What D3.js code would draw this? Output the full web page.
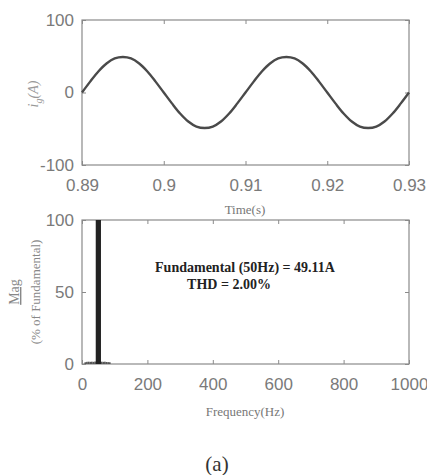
<!DOCTYPE html>
<html>
<head>
<meta charset="utf-8">
<script src="https://cdn.jsdelivr.net/npm/d3@7"></script>
<style>
    body { margin: 0; background: #fff; }
    svg { display: block; }
    .axis path, .axis line { stroke: #8a8a8a; }
    .axis text { fill: #7a7a7a; font-family: "Liberation Sans", Arial, sans-serif; font-size: 17px; }
</style>
</head>
<body>
<svg id="chart" width="427" height="475"></svg>
<script>
var timeValues = [0.890, 0.891, 0.892, 0.893, 0.894, 0.895, 0.896, 0.897, 0.898, 0.899,
    0.900, 0.901, 0.902, 0.903, 0.904, 0.905, 0.906, 0.907, 0.908, 0.909,
    0.910, 0.911, 0.912, 0.913, 0.914, 0.915, 0.916, 0.917, 0.918, 0.919,
    0.920, 0.921, 0.922, 0.923, 0.924, 0.925, 0.926, 0.927, 0.928, 0.929, 0.930];
var currentValues = [0, 15, 29, 40, 47, 49, 47, 40, 29, 15,
    0, -15, -29, -40, -47, -49, -47, -40, -29, -15,
    0, 15, 29, 40, 47, 49, 47, 40, 29, 15,
    0, -15, -29, -40, -47, -49, -47, -40, -29, -15, 0];
var timeTicks = [0.89, 0.9, 0.91, 0.92, 0.93];
var currentTicks = [-100, 0, 100];

// spectrum
var harmonicFreqs = [10, 15, 20, 25, 30, 35, 40, 45, 55, 60, 65, 70, 75, 80, 85];
var harmonicMags = [1.2, 1.5, 1.6, 1.5, 1.6, 1.5, 1.7, 1.8, 1.8, 1.6, 1.5, 1.6, 1.4, 1.3, 1.2];
var fundamentalFreq = 50;
var fundamentalMag = 100;
var freqTicks = [0, 200, 400, 600, 800, 1000];
var magTicks = [0, 50, 100];

var svg = d3.select("#chart");
var left = 82, right = 409;

function plainNumber(d) {
    // keep an ascii hyphen for negatives, like the original
    return String(+d.toFixed(2));
}

function drawBox(x, y) {
    svg.append("rect")
        .attr("x", x.range()[0])
        .attr("y", y.range()[1])
        .attr("width", x.range()[1] - x.range()[0])
        .attr("height", y.range()[0] - y.range()[1])
        .attr("fill", "none")
        .attr("stroke", "#8a8a8a")
        .attr("stroke-width", 1.2);
}

function drawAxes(x, y, xTicks, yTicks) {
    var top = y.range()[1], bottom = y.range()[0];

    svg.append("g")
        .attr("class", "axis")
        .attr("transform", "translate(0," + bottom + ")")
        .call(d3.axisBottom(x).tickValues(xTicks).tickSize(-4).tickPadding(14).tickFormat(plainNumber))
        .call(function (g) { g.select(".domain").remove(); });

    svg.append("g")
        .attr("class", "axis")
        .attr("transform", "translate(0," + top + ")")
        .call(d3.axisTop(x).tickValues(xTicks).tickSize(-4).tickFormat(""))
        .call(function (g) { g.select(".domain").remove(); });

    svg.append("g")
        .attr("class", "axis")
        .attr("transform", "translate(" + left + ",0)")
        .call(d3.axisLeft(y).tickValues(yTicks).tickSize(-4).tickPadding(8).tickFormat(plainNumber))
        .call(function (g) { g.select(".domain").remove(); });

    svg.append("g")
        .attr("class", "axis")
        .attr("transform", "translate(" + right + ",0)")
        .call(d3.axisRight(y).tickValues(yTicks).tickSize(-4).tickFormat(""))
        .call(function (g) { g.select(".domain").remove(); });

    drawBox(x, y);
}

// ---- top: time waveform ----
var xTime = d3.scaleLinear().domain([0.89, 0.93]).range([left, right]);
var yCur = d3.scaleLinear().domain([-100, 100]).range([165, 20]);

drawAxes(xTime, yCur, timeTicks, currentTicks);

var lineFunc = d3.line()
    .x(function (d, i) { return xTime(timeValues[i]); })
    .y(function (d) { return yCur(d); })
    .curve(d3.curveCatmullRom);

svg.append("path")
    .attr("d", lineFunc(currentValues))
    .attr("fill", "none")
    .attr("stroke", "#4a4a4a")
    .attr("stroke-width", 2.4);

svg.append("text")
    .attr("x", 245).attr("y", 214)
    .attr("text-anchor", "middle")
    .attr("font-family", "Liberation Serif, serif")
    .attr("font-size", 13).attr("fill", "#777")
    .text("Time(s)");

var ylab = svg.append("text")
    .attr("transform", "translate(38,94) rotate(-90)")
    .attr("text-anchor", "middle")
    .attr("font-family", "Liberation Serif, serif")
    .attr("font-style", "italic")
    .attr("font-size", 14).attr("fill", "#999");
ylab.append("tspan").text("i");
ylab.append("tspan").attr("font-size", 10).attr("dy", 4).text("g");
ylab.append("tspan").attr("dy", -4).text("(A)");

// ---- bottom: spectrum ----
var xFreq = d3.scaleLinear().domain([0, 1000]).range([left, right]);
var yMag = d3.scaleLinear().domain([0, 100]).range([364, 220]);

drawAxes(xFreq, yMag, freqTicks, magTicks);

var binW = xFreq(5) - xFreq(0);
svg.append("g").selectAll("rect")
    .data(harmonicFreqs)
    .enter().append("rect")
    .attr("x", function (d) { return xFreq(d) - binW / 2; })
    .attr("y", function (d, i) { return yMag(harmonicMags[i]); })
    .attr("width", binW)
    .attr("height", function (d, i) { return yMag(0) - yMag(harmonicMags[i]); })
    .attr("fill", "#555");

var fundW = xFreq(16) - xFreq(0);
svg.append("rect")
    .attr("x", xFreq(fundamentalFreq) - fundW / 2)
    .attr("y", yMag(fundamentalMag))
    .attr("width", fundW)
    .attr("height", yMag(0) - yMag(fundamentalMag))
    .attr("fill", "#222");

svg.append("text")
    .attr("x", 245).attr("y", 272)
    .attr("text-anchor", "middle")
    .attr("font-family", "Liberation Serif, serif")
    .attr("font-weight", "bold")
    .attr("font-size", 14).attr("fill", "#222")
    .text("Fundamental (50Hz) = 49.11A");

svg.append("text")
    .attr("x", 229).attr("y", 289)
    .attr("text-anchor", "middle")
    .attr("font-family", "Liberation Serif, serif")
    .attr("font-weight", "bold")
    .attr("font-size", 14).attr("fill", "#222")
    .text("THD = 2.00%");

svg.append("text")
    .attr("x", 245).attr("y", 416)
    .attr("text-anchor", "middle")
    .attr("font-family", "Liberation Serif, serif")
    .attr("font-size", 13).attr("fill", "#777")
    .text("Frequency(Hz)");

svg.append("text")
    .attr("transform", "translate(19,292) rotate(-90)")
    .attr("text-anchor", "middle")
    .attr("font-family", "Liberation Serif, serif")
    .attr("font-size", 14).attr("fill", "#888")
    .attr("text-decoration", "underline")
    .text("Mag");

svg.append("text")
    .attr("transform", "translate(40,292) rotate(-90)")
    .attr("text-anchor", "middle")
    .attr("font-family", "Liberation Serif, serif")
    .attr("font-size", 13).attr("fill", "#888")
    .text("(% of Fundamental)");

svg.append("text")
    .attr("x", 217).attr("y", 471)
    .attr("text-anchor", "middle")
    .attr("font-family", "Liberation Serif, serif")
    .attr("font-size", 21).attr("fill", "#333")
    .text("(a)");
</script>
</body>
</html>
